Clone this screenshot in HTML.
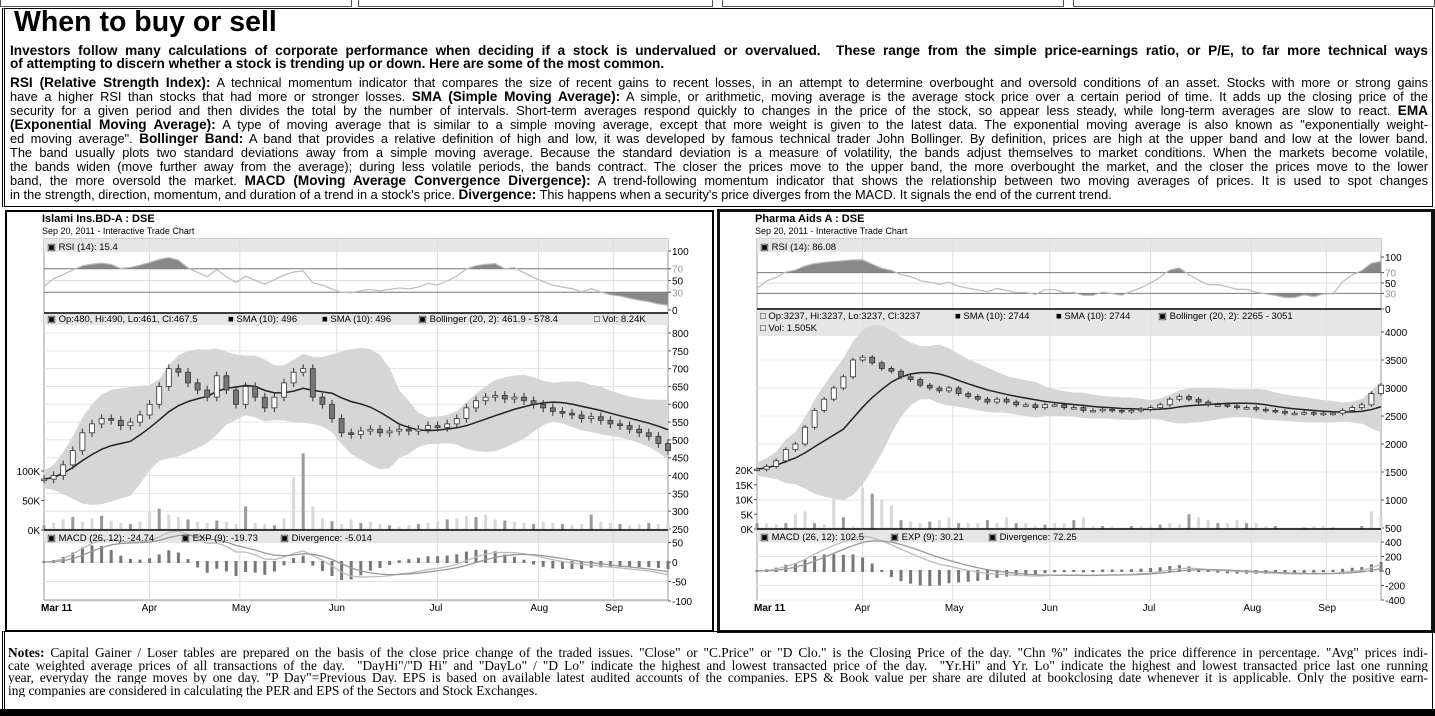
<!DOCTYPE html>
<html><head><meta charset="utf-8">
<style>
*{margin:0;padding:0;box-sizing:border-box}
body{width:1435px;height:716px;background:#fff;position:relative;overflow:hidden;font-family:"Liberation Sans",Arial,sans-serif;color:#000}
.abs{position:absolute}
.ln{position:absolute;left:10px;width:1418px;height:14px;overflow:hidden;text-align:justify;text-align-last:justify;white-space:normal;font-size:12.8px;line-height:14px}
.ln b{font-size:13.6px}
.nl{position:absolute;left:8px;width:1420px;height:13px;overflow:hidden;text-align:justify;text-align-last:justify;font-family:"Liberation Serif",serif;font-size:13.4px;line-height:13px}
svg text{font-family:"Liberation Sans",Arial,sans-serif}
</style></head>
<body>
<div class="abs" style="left:0;top:0;width:1435px;height:8px">
 <div class="abs" style="left:0;top:-2px;width:352px;height:9px;border:1px solid #555"></div>
 <div class="abs" style="left:358px;top:-2px;width:355px;height:9px;border:1px solid #555"></div>
 <div class="abs" style="left:722px;top:-2px;width:342px;height:9px;border:1px solid #555"></div>
 <div class="abs" style="left:1073px;top:-2px;width:362px;height:9px;border:1px solid #555"></div>
</div>
<div class="abs" style="left:2px;top:8px;width:1431px;height:199px;border:1px solid #000;border-left:3px double #000"></div>
<div class="abs" style="left:14px;top:5px;font-size:28.5px;font-weight:bold;line-height:34px">When to buy or sell</div>
<div class="ln" style="top:44px;font-weight:bold;font-size:13.6px">Investors follow many calculations of corporate performance when deciding if a stock is undervalued or overvalued.&nbsp; These range from the simple price-earnings ratio, or P/E, to far more technical ways</div>
<div class="ln" style="top:57px;font-weight:bold;font-size:13.6px;text-align-last:left">of attempting to discern whether a stock is trending up or down. Here are some of the most common.</div>
<div class="ln" style="top:76px"><b>RSI (Relative Strength Index):</b> A technical momentum indicator that compares the size of recent gains to recent losses, in an attempt to determine overbought and oversold conditions of an asset. Stocks with more or strong gains</div>
<div class="ln" style="top:90px">have a higher RSI than stocks that had more or stronger losses. <b>SMA (Simple Moving Average):</b> A simple, or arithmetic, moving average is the average stock price over a certain period of time. It adds up the closing price of the</div>
<div class="ln" style="top:104px">security for a given period and then divides the total by the number of intervals. Short-term averages respond quickly to changes in the price of the stock, so appear less steady, while long-term averages are slow to react. <b>EMA</b></div>
<div class="ln" style="top:118px"><b>(Exponential Moving Average):</b> A type of moving average that is similar to a simple moving average, except that more weight is given to the latest data. The exponential moving average is also known as "exponentially weight-</div>
<div class="ln" style="top:132px">ed moving average". <b>Bollinger Band:</b> A band that provides a relative definition of high and low, it was developed by famous technical trader John Bollinger. By definition, prices are high at the upper band and low at the lower band.</div>
<div class="ln" style="top:146px">The band usually plots two standard deviations away from a simple moving average. Because the standard deviation is a measure of volatility, the bands adjust themselves to market conditions. When the markets become volatile,</div>
<div class="ln" style="top:160px">the bands widen (move further away from the average); during less volatile periods, the bands contract. The closer the prices move to the upper band, the more overbought the market, and the closer the prices move to the lower</div>
<div class="ln" style="top:174px">band, the more oversold the market. <b>MACD (Moving Average Convergence Divergence):</b> A trend-following momentum indicator that shows the relationship between two moving averages of prices. It is used to spot changes</div>
<div class="ln" style="top:188px;text-align-last:left">in the strength, direction, momentum, and duration of a trend in a stock's price. <b>Divergence:</b> This happens when a security's price diverges from the MACD. It signals the end of the current trend.</div>

<div class="abs" style="left:5px;top:210px;width:709px;height:422px;border:2px solid #000"></div>
<div class="abs" style="left:717px;top:209px;width:718px;height:424px;border:3px solid #111;border-right:4px solid #111"></div>

<svg id="charts" class="abs" style="left:0;top:0" width="1435" height="716"></svg>

<div class="abs" style="left:2px;top:631px;width:1431px;height:79px;border:1px solid #000;border-left:3px double #000"></div>
<div class="nl" style="top:646px"><b>Notes:</b> Capital Gainer / Loser tables are prepared on the basis of the close price change of the traded issues. "Close" or "C.Price" or "D Clo." is the Closing Price of the day. "Chn %" indicates the price difference in percentage. "Avg" prices indi-</div>
<div class="nl" style="top:659px">cate weighted average prices of all transactions of the day.&nbsp; "DayHi"/"D Hi" and "DayLo" / "D Lo" indicate the highest and lowest transacted price of the day.&nbsp; "Yr.Hi" and Yr. Lo" indicate the highest and lowest transacted price last one running</div>
<div class="nl" style="top:671px">year, everyday the range moves by one day. "P Day"=Previous Day. EPS is based on available latest audited accounts of the companies. EPS &amp; Book value per share are diluted at bookclosing date whenever it is applicable. Only the positive earn-</div>
<div class="nl" style="top:684px;text-align-last:left">ing companies are considered in calculating the PER and EPS of the Sectors and Stock Exchanges.</div>
<div class="abs" style="left:0;top:709px;width:1435px;height:7px;background:#000"></div>

<script>
const leftClose=[390,400,430,470,520,545,560,555,540,550,570,600,650,700,690,660,640,620,680,640,600,650,620,590,620,660,690,700,620,600,560,520,515,525,530,520,525,530,525,530,540,535,545,560,590,610,620,625,615,620,610,600,590,580,575,570,560,565,555,545,540,530,520,510,490,470];
const leftVol=[8,12,18,22,14,20,24,16,12,10,14,30,36,26,22,18,14,12,16,14,10,40,12,10,8,20,90,130,40,20,15,10,18,12,14,10,8,6,8,10,12,14,18,20,24,22,26,18,16,14,12,10,14,12,10,8,10,26,14,12,10,8,10,12,10,12];
const rightClose=[1550,1600,1700,1900,2000,2300,2600,2800,3000,3200,3500,3550,3450,3350,3300,3200,3150,3050,3000,2950,3000,2900,2850,2800,2750,2800,2750,2700,2700,2650,2700,2700,2650,2650,2600,2600,2620,2600,2580,2600,2620,2650,2700,2800,2850,2800,2750,2700,2700,2680,2650,2650,2620,2600,2580,2550,2550,2560,2540,2550,2550,2600,2650,2700,2900,3050];
const rightVol=[2,2,1.5,2,5,6,2,1.5,12,4,1,14,12,10,8,3,2.5,2,2.5,3,4,2,2,2,3,2,4,2,2,1,1.5,2,2,3,4,1,1,1,0.5,1,1,1,1.5,2,1.5,5,4,3,2,2,3,2,2,1,1,0.5,0.5,0.5,1,1,0.5,0.5,0.5,1,6,4];
const monthLabels=['Mar 11','Apr','May','Jun','Jul','Aug','Sep'];
const monthIdx=[0,11,20.4,30.5,41,51.5,59.3];
const leftPriceTicks=[800,750,700,650,600,550,500,450,400,350,300,250];
const rightPriceTicks=[4000,3500,3000,2500,2000,1500,1000,500];
const leftVolTicks=[100,50,0];
const rightVolTicks=[20,15,10,5,0];
const rsiTicks=[100,70,50,30,0];
const leftMacdTicks=[50,0,-50,-100];
const rightMacdTicks=[400,200,0,-200,-400];

const NS='http://www.w3.org/2000/svg';
const svg=document.getElementById('charts');
function el(tag,attrs,parent){const e=document.createElementNS(NS,tag);for(const k in attrs)e.setAttribute(k,attrs[k]);(parent||svg).appendChild(e);return e;}
function txt(x,y,s,attrs){const t=el('text',Object.assign({x:x,y:y,'font-size':10},attrs||{}));t.textContent=s;return t;}
function ema(a,n){const k=2/(n+1);const o=[a[0]];for(let i=1;i<a.length;i++)o.push(a[i]*k+o[i-1]*(1-k));return o;}

function drawChart(c,close,vol,priceTicks,volTicks,macdTicks){
  const n=close.length;
  const X=i=>c.x0+(c.x1-c.x0)*i/(n-1);
  const Yp=v=>c.pTop+(c.pMax-v)*c.pScale;
  const Yr=v=>c.rZero-v*c.rScale;
  const Yv=v=>c.pBot-v*c.vScale;
  const Ym=v=>c.mZero-v*c.mScale;
  const g=el('g',{});
  
  
  const t1=txt(c.x0-2,c.tY,c.title,{'font-size':11,'font-weight':'bold'});
  
  
  g.appendChild(t1);
  const t2=txt(c.x0-2,c.tY+12,'Sep 20, 2011 - Interactive Trade Chart',{'font-size':9});
  
  
  g.appendChild(t2);
  el('rect',{x:c.x0,y:239,width:c.x1-c.x0,height:c.mBot-239,fill:'#fff',stroke:'#999'},g);
  el('rect',{x:c.x0,y:239,width:c.x1-c.x0,height:13,fill:'#e6e6e6'},g);
  el('rect',{x:c.x0,y:c.rBot,width:c.x1-c.x0,height:c.pHdr,fill:'#e6e6e6'},g);
  el('rect',{x:c.x0,y:c.pBot,width:c.x1-c.x0,height:13,fill:'#e6e6e6'},g);
  monthIdx.forEach((mi,k)=>{const x=X(mi);
    if(k>0)el('line',{x1:x,x2:x,y1:239,y2:c.mBot,stroke:'#ddd'},g);
    const l=txt(x+(k==0?-3:-8),611,monthLabels[k],{'font-size':10,'font-weight':k==0?'bold':'normal'});
    
    
    g.appendChild(l);
  });
  // RSI
  const p=7;let ag=c.rsiSeed,al=c.rsiSeed;const rsi=[40];
  for(let i=1;i<n;i++){const d=close[i]-close[i-1];ag=(ag*(p-1)+Math.max(d,0))/p;al=(al*(p-1)+Math.max(-d,0))/p;rsi.push(al==0?100:100-100/(1+ag/al));}
  const rs=rsi.map(v=>Math.min(95,Math.max(8,v)));
  rsiTicks.forEach(v=>{const y=Yr(v);
    if(v==70||v==30)el('line',{x1:c.x0,x2:c.x1,y1:y,y2:y,stroke:'#777'},g);
    else if(v==50)el('line',{x1:c.x0,x2:c.x1,y1:y,y2:y,stroke:'#ddd'},g);
    el('line',{x1:c.x1,x2:c.x1+3,y1:y,y2:y,stroke:'#555'},g);
    txt(c.x1+4,y+4,String(v),{'font-size':10,fill:v==70||v==30?'#999':'#000'});
  });
  const rpts=rs.map((v,i)=>X(i)+','+Yr(v)).join(' ');
  const cid=c.id+'clip';
  const cp=el('clipPath',{id:cid+'a'},g);el('rect',{x:c.x0,y:239,width:c.x1-c.x0,height:Yr(70)-239},cp);
  const cp2=el('clipPath',{id:cid+'b'},g);el('rect',{x:c.x0,y:Yr(30),width:c.x1-c.x0,height:c.rBot-Yr(30)},cp2);
  const fa=el('polygon',{points:X(0)+','+Yr(70)+' '+rpts+' '+X(n-1)+','+Yr(70),fill:'#888','clip-path':'url(#'+cid+'a)'},g);
  
  const fb=el('polygon',{points:X(0)+','+Yr(30)+' '+rpts+' '+X(n-1)+','+Yr(30),fill:'#888','clip-path':'url(#'+cid+'b)'},g);
  
  const rl=el('polyline',{points:rpts,fill:'none',stroke:'#bbb','stroke-width':1.2},g);
  
  
  txt(c.x0+3,250,'\u25A3 RSI (14): '+c.rsiTxt,{'font-size':9.5});
  priceTicks.forEach(v=>{const y=Yp(v);
    el('line',{x1:c.x0,x2:c.x1,y1:y,y2:y,stroke:'#e4e4e4'},g);
    el('line',{x1:c.x1,x2:c.x1+3,y1:y,y2:y,stroke:'#555'},g);
    const t=txt(c.x1+4,y+4,String(v),{'font-size':10});
    
  });
  volTicks.forEach(v=>{const y=Yv(v);
    el('line',{x1:c.x0-3,x2:c.x0,y1:y,y2:y,stroke:'#555'},g);
    const t=txt(c.x0-4,y+4,v+'K',{'font-size':10,'text-anchor':'end'});
    
  });
  const up=[],lo=[],sma=[];
  for(let i=0;i<n;i++){const w=close.slice(Math.max(0,i-9),i+1);const m=w.reduce((a,b)=>a+b,0)/w.length;const sd=Math.sqrt(w.reduce((a,b)=>a+(b-m)*(b-m),0)/w.length);sma.push(m);up.push(m+2*sd+c.bPad);lo.push(m-2*sd-c.bPad);}
  const band=up.map((v,i)=>X(i)+','+Yp(v)).concat(lo.map((v,i)=>X(i)+','+Yp(v)).reverse()).join(' ');
  const bp=el('polygon',{points:band,fill:'#d6d6d6'},g);
  
  
  vol.forEach((v,i)=>{const b=el('rect',{x:X(i)-1.5,y:Yv(v),width:3,height:v*c.vScale,fill:i%3==0?'#999':'#d8d8d8'},g);
    
    });
  const sl=el('polyline',{points:sma.map((v,i)=>X(i)+','+Yp(v)).join(' '),fill:'none',stroke:'#222','stroke-width':1.5},g);
  
  
  close.forEach((v,i)=>{const o=i?close[i-1]:v;const hi=Math.max(o,v)+c.wick,low=Math.min(o,v)-c.wick;const x=X(i);
    el('line',{x1:x,x2:x,y1:Yp(hi),y2:Yp(low),stroke:'#333'},g);
    const top=Yp(Math.max(o,v)),h=Math.max(1.5,Math.abs(Yp(o)-Yp(v)));
    const cd=el('rect',{x:x-2.5,y:top,width:5,height:h,fill:v>=o?'#fff':'#777',stroke:'#333','stroke-width':0.8},g);
    
    
  });
  c.pLeg.forEach((s,k)=>txt(s[1],s[2],s[0],{'font-size':9.5}));
  el('line',{x1:c.x0,x2:c.x1,y1:c.rBot,y2:c.rBot,stroke:'#000','stroke-width':1.5},g);
  el('line',{x1:c.x0,x2:c.x1,y1:c.pBot,y2:c.pBot,stroke:'#000','stroke-width':1.5},g);
  const f=ema(close,6),s=ema(close,13);const macd=f.map((v,i)=>(v-s[i])*c.mMul);const sig=ema(macd,5);
  macdTicks.forEach(v=>{const y=Ym(v);
    el('line',{x1:c.x0,x2:c.x1,y1:y,y2:y,stroke:'#e4e4e4'},g);
    el('line',{x1:c.x1,x2:c.x1+3,y1:y,y2:y,stroke:'#555'},g);
    txt(c.x1+4,y+4,String(v),{'font-size':10});
  });
  macd.forEach((v,i)=>{const d=(v-sig[i])*2;const y0=Ym(0),y1=Ym(d);
    const b=el('rect',{x:X(i)-1.5,y:Math.min(y0,y1)-1,width:3,height:Math.abs(y1-y0)+2,fill:'#777'},g);
    
    });
  const ml=el('polyline',{points:macd.map((v,i)=>X(i)+','+Ym(v)).join(' '),fill:'none',stroke:'#bbb','stroke-width':1.3},g);
  
  
  const sg=el('polyline',{points:sig.map((v,i)=>X(i)+','+Ym(v)).join(' '),fill:'none',stroke:'#999','stroke-width':1.3},g);
  
  
  c.mLeg.forEach(s=>txt(s[1],c.pBot+11,s[0],{'font-size':9.5}));
}

drawChart({id:'islami',title:'Islami Ins.BD-A : DSE',rsiTxt:'15.4',rsiSeed:15,x0:44,x1:668,tY:222,rZero:310,rScale:0.59,rBot:313,pHdr:12,
  pTop:333,pMax:800,pScale:0.3564,pBot:530,vScale:0.59,wick:12,bPad:25,mZero:562,mScale:0.39,mBot:600,mMul:1.3,
  pLeg:[['\u25A3 Op:480, Hi:490, Lo:461, Cl:467.5',47,322],['\u25A0 SMA (10): 496',228,322],['\u25A0 SMA (10): 496',322,322],['\u25A3 Bollinger (20, 2): 461.9 - 578.4',418,322],['\u25A1 Vol: 8.24K',594,322]],
  mLeg:[['\u25A3 MACD (26, 12): -24.74',47],['\u25A3 EXP (9): -19.73',181],['\u25A3 Divergence: -5.014',280]]},
  leftClose,leftVol,leftPriceTicks,leftVolTicks,leftMacdTicks);
drawChart({id:'pharma',title:'Pharma Aids A : DSE',rsiTxt:'86.08',rsiSeed:50,x0:757,x1:1381,tY:222,rZero:309,rScale:0.52,rBot:309,pHdr:27,
  pTop:332,pMax:4000,pScale:0.056,pBot:529,vScale:2.95,wick:40,bPad:120,mZero:571,mScale:0.0725,mBot:600,mMul:1.0,
  pLeg:[['\u25A1 Op:3237, Hi:3237, Lo:3237, Cl:3237',760,319],['\u25A0 SMA (10): 2744',955,319],['\u25A0 SMA (10): 2744',1056,319],['\u25A3 Bollinger (20, 2): 2265 - 3051',1158,319],['\u25A1 Vol: 1.505K',760,331]],
  mLeg:[['\u25A3 MACD (26, 12): 102.5',760],['\u25A3 EXP (9): 30.21',890],['\u25A3 Divergence: 72.25',988]]},
  rightClose,rightVol,rightPriceTicks,rightVolTicks,rightMacdTicks);
</script>
</body></html>
